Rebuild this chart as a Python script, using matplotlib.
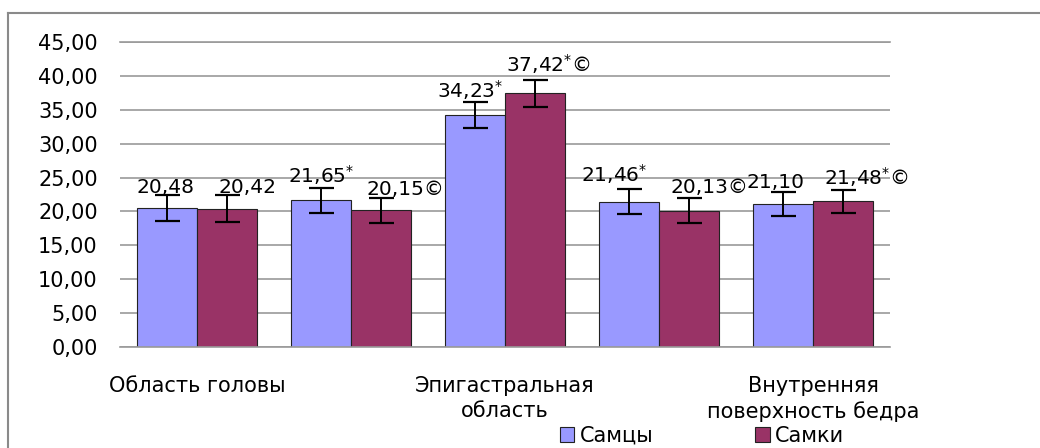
import matplotlib
matplotlib.use('Agg')
import matplotlib.pyplot as plt
import numpy as np
from matplotlib.lines import Line2D
from matplotlib.patches import Patch

# Data: five body regions, males vs females
categories = ["Область головы", "", "Эпигастральная\nобласть", "",
              "Внутренняя\nповерхность бедра"]
males = [20.48, 21.65, 34.23, 21.46, 21.10]
females = [20.42, 20.15, 37.42, 20.13, 21.48]
males_err = [1.9, 1.85, 1.9, 1.85, 1.75]
females_err = [1.95, 1.85, 2.0, 1.85, 1.7]
males_marks = ["", "*", "*", "*", ""]
females_marks = ["", "©", "*©", "©", "*©"]
series_names = ["Самцы", "Самки"]
yticks = np.arange(0, 46, 5)

# hand-placed label nudges (dx, dy) in pixels from the bar top centre
males_lbl_off = [(-1, 15), (0, 17), (-5, 17), (-15, 19.5), (-7, 16)]
females_lbl_off = [(20, 15.5), (24, 15.5), (13, 22), (20, 17.5), (23, 16.5)]

c_male = '#9999FF'
c_female = '#993366'
grid_c = '#9a9a9a'

plt.rcParams['font.family'] = ['DejaVu Sans']
fs = 15
px = 72 / 100  # points per pixel at dpi 100

fig = plt.figure(figsize=(10.4, 4.48), dpi=100)
ax = fig.add_axes([0.1154, 0.2254, 0.7404, 0.6808])

x = np.arange(len(categories))
w = 0.39

b1 = ax.bar(x - w / 2, males, w, color=c_male, edgecolor='#222222', linewidth=0.8, zorder=2)
b2 = ax.bar(x + w / 2, females, w, color=c_female, edgecolor='#222222', linewidth=0.8, zorder=2)

ekw = dict(fmt='none', ecolor='black', elinewidth=1.4, capsize=9, capthick=1.6, zorder=3)
ax.errorbar(x - w / 2, males, yerr=males_err, **ekw)
ax.errorbar(x + w / 2, females, yerr=females_err, **ekw)

# value labels above the bars; the asterisk is set as a small superscript
def fmt(v, mark):
    s = f"{v:.2f}".replace('.', ',')
    if '*' in mark:
        s += r"$^{*}$"
    if '©' in mark:
        s += "©"
    return s

for bars, vals, marks, offs in [(b1, males, males_marks, males_lbl_off),
                                (b2, females, females_marks, females_lbl_off)]:
    for bar, v, m, (dx, dy) in zip(bars, vals, marks, offs):
        ax.annotate(fmt(v, m), (bar.get_x() + bar.get_width() / 2, v),
                    xytext=(dx * px, dy * px), textcoords='offset points',
                    ha='center', va='baseline', fontsize=14.5, zorder=4)

ax.set_xlim(-0.5, len(categories) - 0.5)
ax.set_ylim(0, 45)
ax.set_yticks(yticks)
ax.set_yticklabels([f"{t:.2f}".replace('.', ',') for t in yticks], fontsize=fs)
ax.set_xticks(x)
ax.set_xticklabels(categories, fontsize=fs, linespacing=1.3)
ax.tick_params(axis='y', length=0, pad=16)
ax.tick_params(axis='x', length=0, pad=21)

ax.set_axisbelow(True)
ax.yaxis.grid(True, color=grid_c, linewidth=1.2)
for side in ['left', 'right']:
    ax.spines[side].set_visible(False)
for side in ['top', 'bottom']:
    ax.spines[side].set_color(grid_c)
    ax.spines[side].set_linewidth(1.2)

handles = [Patch(facecolor=c_male, edgecolor='#222222', linewidth=0.8),
           Patch(facecolor=c_female, edgecolor='#222222', linewidth=0.8)]
fig.legend(handles, series_names, loc='center', bbox_to_anchor=(0.675, 0.027),
           ncol=2, frameon=False, fontsize=fs, handlelength=0.7, handleheight=0.7,
           handletextpad=0.25, columnspacing=4.9, borderpad=0)

# outer chart frame (top and left edges)
fig.add_artist(Line2D([8 / 1040, 1.0], [1 - 13 / 448, 1 - 13 / 448],
                      color='#8a8a8a', linewidth=1.5, transform=fig.transFigure))
fig.add_artist(Line2D([8 / 1040, 8 / 1040], [0.0, 1 - 13 / 448],
                      color='#8a8a8a', linewidth=1.5, transform=fig.transFigure))

fig.savefig('out.png', dpi=100)
